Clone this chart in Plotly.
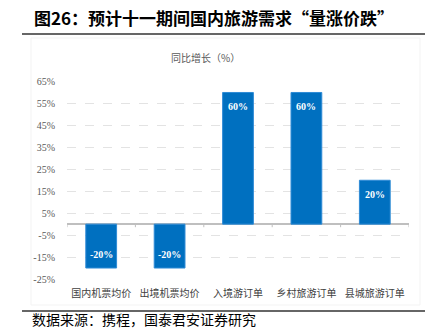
import plotly.graph_objects as go

categories = ["国内机票均价", "出境机票均价", "入境游订单", "乡村旅游订单", "县城旅游订单"]
values = [-20, -20, 60, 60, 20]
labels = ["-20%", "-20%", "60%", "60%", "20%"]
y_ticks = [-25, -15, -5, 5, 15, 25, 35, 45, 55, 65]

W, H = 425, 330
L, R, T, B = 67, 16, 81.5, 51

CJK = "Noto Sans CJK SC"
SERIF = "Liberation Serif"

fig = go.Figure()
fig.add_trace(go.Bar(
    x=categories, y=values,
    marker=dict(color="#0070C0", line=dict(color="#2F8BD6", width=1)),
    width=0.45,
    hoverinfo="skip",
))

annotations = []
for c, v, t in zip(categories, values, labels):
    annotations.append(dict(
        x=c, y=v, xref="x", yref="y", text=f"<b>{t}</b>", showarrow=False,
        yshift=-14 if v > 0 else 14,
        font=dict(family=SERIF, size=10, color="white"),
    ))

# titles and footer
annotations += [
    dict(x=32 / W, y=1 - 17 / H, xref="paper", yref="paper", xanchor="left", yanchor="middle",
         text="<b>图26：预计十一期间国内旅游需求“量涨价跌”</b>", showarrow=False,
         font=dict(family=CJK, size=17, color="black")),
    dict(x=205 / W, y=1 - 57 / H, xref="paper", yref="paper", xanchor="center", yanchor="middle",
         text="同比增长（%）", showarrow=False,
         font=dict(family=CJK, size=10, color="#595959")),
    dict(x=31 / W, y=0, xref="paper", yref="paper", xanchor="left", yanchor="bottom",
         text="数据来源：携程，国泰君安证券研究", showarrow=False, borderpad=0,
         font=dict(family=CJK, size=14, color="black")),
]

shapes = [
    dict(type="rect", xref="paper", yref="paper", x0=31 / W, x1=420 / W, y0=1 - 305 / H, y1=1 - 38 / H,
         line=dict(color="#f3f3f3", width=1), layer="below"),
    dict(type="line", xref="paper", yref="paper", x0=22 / W, x1=1, y0=1 - 34 / H, y1=1 - 34 / H,
         line=dict(color="#333333", width=1.5)),
    dict(type="line", xref="paper", yref="paper", x0=22 / W, x1=1, y0=1 - 311 / H, y1=1 - 311 / H,
         line=dict(color="#333333", width=1.5)),
]
# tick marks on the zero axis at category boundaries
for i in range(len(categories) + 1):
    shapes.append(dict(type="line", xref="x", yref="y", x0=i - 0.5, x1=i - 0.5, y0=0, y1=-1.4,
                       line=dict(color="#bfbfbf", width=1)))

fig.update_layout(
    width=W, height=H,
    margin=dict(l=0, r=0, t=0, b=0, pad=0),
    paper_bgcolor="white", plot_bgcolor="white",
    showlegend=False,
    annotations=annotations,
    shapes=shapes,
    xaxis=dict(
        domain=[L / W, 1 - R / W], automargin=False,
        range=[-0.5, 4.5], showgrid=False, zeroline=False, showline=False,
        ticks="outside", ticklen=5, tickcolor="rgba(0,0,0,0)",
        tickfont=dict(family=CJK, size=10, color="#404040"),
        fixedrange=True,
    ),
    yaxis=dict(
        domain=[B / H, 1 - T / H], automargin=False,
        range=[-25, 65], tickvals=y_ticks, ticktext=[f"{v}%" for v in y_ticks],
        showgrid=True, gridcolor="#e3e3e3", griddash="dash", gridwidth=1,
        zeroline=True, zerolinecolor="#bfbfbf", zerolinewidth=1.5,
        showline=False, ticks="outside", ticklen=9, tickcolor="rgba(0,0,0,0)",
        tickfont=dict(family=SERIF, size=10, color="#595959"),
        fixedrange=True,
    ),
)

fig.write_html("out.html", config={"displayModeBar": False})
